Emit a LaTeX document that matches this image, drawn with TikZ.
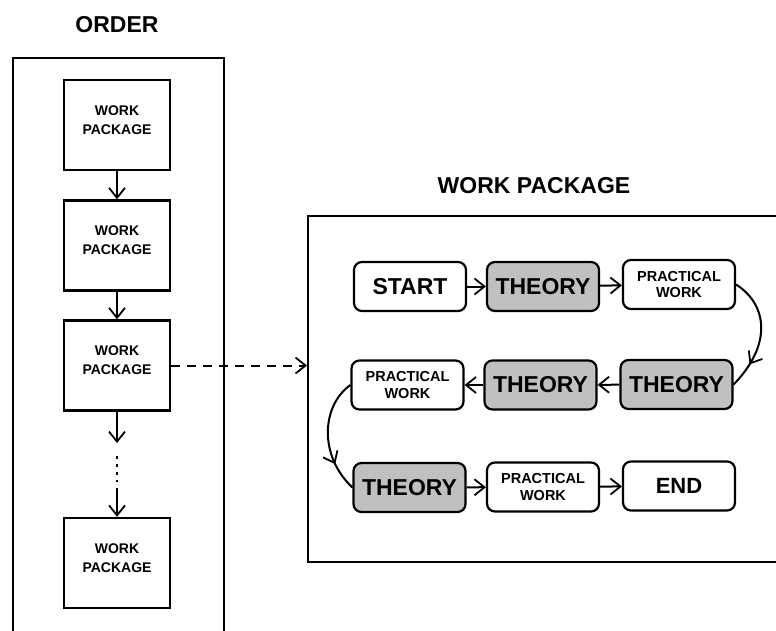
\documentclass[tikz,border=0pt]{standalone}
\usepackage{fontspec}
\setmainfont{Liberation Sans}
\usetikzlibrary{arrows.meta,decorations.markings}
\definecolor{boxgray}{HTML}{C0C0C0}
\tikzset{
  ln/.style={line width=2pt},
  arr/.style={ln,-{Straight Barb[length=10pt,width=16pt,line width=1.8pt]}},
  midarr/.style={ln,postaction={decorate},decoration={markings,mark=at position #1 with {\arrow{Straight Barb[length=10pt,width=16pt,line width=1.8pt]}}}},
  frame/.style={draw,line width=2.4pt,inner sep=0pt},
  wpbox/.style={draw,line width=2.4pt,minimum width=106pt,minimum height=90pt,inner sep=0pt},
  rbox/.style={draw,line width=2.2pt,rounded corners=8pt,minimum width=112pt,minimum height=49pt,inner sep=0pt,font=\bfseries\fontsize{23}{26}\selectfont},
  gbox/.style={rbox,fill=boxgray},
  pwbox/.style={rbox,align=center,font=\bfseries\fontsize{14.5}{16.5}\selectfont},
  title/.style={font=\bfseries\fontsize{23}{26}\selectfont,anchor=base,inner sep=0pt},
  wplab/.style={align=center,font=\bfseries\fontsize{14}{19}\selectfont,yshift=5pt}
}
\begin{document}
\begin{tikzpicture}[x=1pt,y=-1pt]
\useasboundingbox (0,0) rectangle (776,630);
\clip (0,0) rectangle (776,630);
% titles
\node[title] (ordertitle) at (117,32) {ORDER};
\node[title] (wptitle) at (534,193) {WORK PACKAGE};
% frames
\node[frame,anchor=north west,minimum width=211pt,minimum height=600pt] (order) at (12,57) {};
\node[frame,anchor=north west,minimum width=500pt,minimum height=346pt] (wpbig) at (307,215) {};
% left column
\node[wpbox,label={[wplab]center:{WORK\\PACKAGE}}] (wp1) at (117,125) {};
\node[wpbox,label={[wplab]center:{WORK\\PACKAGE}}] (wp2) at (117,245.5) {};
\node[wpbox,label={[wplab]center:{WORK\\PACKAGE}}] (wp3) at (117,365.5) {};
\node[wpbox,label={[wplab]center:{WORK\\PACKAGE}}] (wp4) at (117,563) {};
\coordinate (d1) at (117,443);
\coordinate (d2) at (117,488);
\draw[arr] (wp1.south) -- (wp2.north);
\draw[arr] (wp2.south) -- (wp3.north);
\draw[arr] (wp3.south) -- (d1);
\draw[line width=2pt,dash pattern=on 2.5pt off 5.5pt] (117,456) -- (117,482);
\draw[arr] (d2) -- (wp4.north);
% dashed link
\draw[arr,dash pattern=on 9pt off 7pt] (wp3.east) -- (wp3.east -| wpbig.west);
% work package flow
\node[rbox] (start) at (410,286.5) {START};
\node[gbox] (t1) at (543,286.5) {THEORY};
\node[pwbox] (pw1) at (679,284.5) {PRACTICAL\\WORK};
\node[pwbox] (pw2) at (407.5,385) {PRACTICAL\\WORK};
\node[gbox] (t2) at (540.5,385) {THEORY};
\node[gbox] (t3) at (676.5,384.5) {THEORY};
\node[gbox] (t4) at (409.5,487.5) {THEORY};
\node[pwbox] (pw3) at (543,487) {PRACTICAL\\WORK};
\node[rbox,font=\bfseries\fontsize{22}{25}\selectfont] (end) at (679,486) {END};
\draw[arr] (start) -- (t1);
\draw[arr] (t1) -- (pw1);
\draw[midarr=0.78] (pw1.east) .. controls (768,305) and (772,345) .. (t3.east);
\draw[arr] (t3) -- (t2);
\draw[arr] (t2) -- (pw2);
\draw[midarr=0.75] (pw2.west) .. controls (322,405) and (318,455) .. (t4.west);
\draw[arr] (t4) -- (pw3);
\draw[arr] (pw3) -- (end);
\end{tikzpicture}
\end{document}
